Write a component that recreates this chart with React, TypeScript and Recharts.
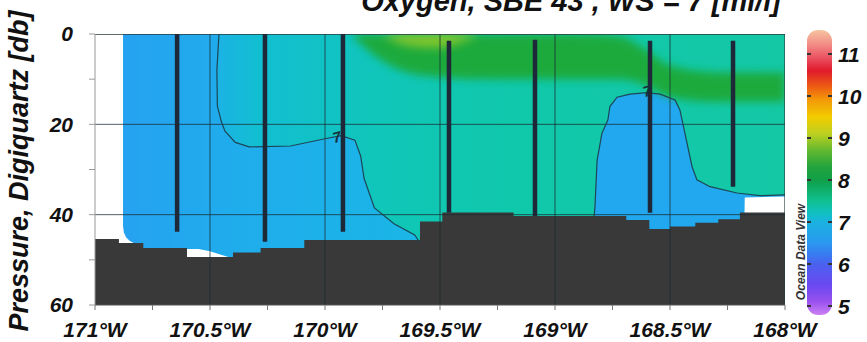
import React from "react";
import {
  ComposedChart,
  Area,
  Line,
  Scatter,
  XAxis,
  YAxis,
  BarChart,
  Bar,
} from "recharts";

// axis ticks
const xTicks = [-171, -170.75, -170.5, -170.25, -170, -169.75, -169.5, -169.25, -169, -168.75, -168.5, -168.25, -168];
const yTicks = [0, 10, 20, 30, 40, 50, 60];
const gridLon = [-170.5, -170, -169.5, -169, -168.5];
const gridDepth = [20, 40];
const colorTicks = [5, 6, 7, 8, 9, 10, 11];

// CTD stations: longitude, first and last pressure [db]
const stationLon = [-170.643, -170.261, -169.922, -169.461, -169.087, -168.587, -168.226];
const stationTop = [0, 0, 0, 1.5, 1.3, 1.5, 1.5];
const stationBottom = [43.8, 46, 43.8, 39.6, 40.3, 39.6, 33.8];

// bottom depth (step profile) [lon, db]
const bathymetry: [number, number][] = [
  [-171, 45.4], [-170.896, 46.3], [-170.79, 47.4], [-170.6, 49.4], [-170.4, 48.4],
  [-170.28, 47.4], [-170.09, 45.6], [-169.587, 41.5], [-169.49, 39.5], [-169.18, 40.3],
  [-168.69, 41.2], [-168.59, 43.2], [-168.5, 42.6], [-168.39, 41.8], [-168.29, 41],
  [-168.196, 39.5], [-168, 39.5],
];

// lower edge of the gridded field (no data below) [lon, db]
const dataBottom: [number, number][] = [
  [-170.878, 42.5], [-170.874, 44], [-170.865, 45], [-170.85, 45.8], [-170.82, 46.6],
  [-170.79, 47.6], [-170.6, 47.6], [-170.55, 47.6], [-170.5, 48.1], [-170.42, 49.4],
  [-170.39, 52], [-168.18, 52], [-168.175, 36.2], [-168, 36],
];

// 7 ml/l contours [lon, db]
const contourWest: [number, number][] = [
  [-170.461, 0], [-170.47, 8], [-170.468, 16], [-170.45, 19.5], [-170.435, 21.5],
  [-170.39, 24], [-170.33, 25], [-170.15, 24.8], [-170.0, 23.2], [-169.93, 22.5],
  [-169.87, 23.5], [-169.845, 27], [-169.83, 32], [-169.785, 38.5], [-169.7, 42],
  [-169.61, 44.5], [-169.59, 46],
];
const contourEast: [number, number][] = [
  [-168.83, 40.5], [-168.826, 38], [-168.817, 28], [-168.796, 22], [-168.77, 19],
  [-168.761, 16], [-168.73, 14], [-168.674, 13.3], [-168.6, 13], [-168.543, 13.3],
  [-168.478, 14.6], [-168.457, 16.8], [-168.435, 22], [-168.404, 29.4], [-168.383, 32.3],
  [-168.326, 33.8], [-168.209, 35.2], [-168.109, 35.8], [-168, 35.6],
];
const contourLabels = [
  { lon: -169.948, p: 22.8, t: "7" },
  { lon: -168.6, p: 12.6, t: "7" },
];

// high oxygen patches near the surface [lon, top db, bottom db]
const greenBand: [number, number, number][] = [
  [-169.88, 0, 0.5], [-169.75, 0, 6], [-169.6, 0, 9], [-169.3, 0, 10],
  [-168.9, 0, 10], [-168.72, 0.5, 10], [-168.62, 3, 11], [-168.5, 7, 14],
  [-168.3, 8.5, 15], [-168, 8.5, 15],
];
const yellowPatch: [number, number, number][] = [
  [-169.74, 0, 0.5], [-169.64, 0, 2.5], [-169.52, 0, 3], [-169.42, 0, 2], [-169.34, 0, 0.3],
];

// colour scale stops [value ml/l, colour]
const cbMin = 4.786;
const cbMax = 11.571;
const cbStops: [number, string][] = [
  [11.571, "#f6c4a0"], [11.25, "#f29088"], [10.9, "#ea5060"], [10.6, "#e01a2a"],
  [10.2, "#ee6012"], [9.9, "#f39a08"], [9.5, "#f2cc00"], [9.1, "#bcd020"],
  [8.7, "#62b830"], [8.3, "#22a33e"], [8.0, "#10a048"], [7.5, "#10c090"],
  [7.2, "#12c0c4"], [7.0, "#1ab2e0"], [6.5, "#2a98f0"], [6.2, "#3a78f0"],
  [6.0, "#4a62f0"], [5.5, "#6a48f0"], [5.1, "#9a52f0"], [4.786, "#cc80f2"],
];

const font = "'Liberation Sans', Arial, sans-serif";
const tickStyle = { fontSize: 21, fontWeight: 700, fontStyle: "italic" as const, fill: "#111", fontFamily: font };

const waterData = [
  { lon: -170.878, range: [0, 60] },
  { lon: -168, range: [0, 60] },
];
const westBlueData = [
  { lon: -170.878, range: [0, 50] },
  ...contourWest.map(([lon, p]) => ({ lon, range: [p, 50] })),
];
const eastBlueData = contourEast.map(([lon, p]) => ({ lon, range: [p, 46] }));
const maskData = dataBottom.map(([lon, p]) => ({ lon, range: [p, 60] }));
const bathyData = bathymetry.map(([lon, p]) => ({ lon, range: [p, 60] }));
const greenData = greenBand.map(([lon, a, b]) => ({ lon, range: [a, b] }));
const yellowData = yellowPatch.map(([lon, a, b]) => ({ lon, range: [a, b] }));

const fmtLon = (v: number) => (Math.abs(v * 2 - Math.round(v * 2)) < 1e-6 ? `${-v}°W` : "");
const fmtDepth = (v: number) => (v % 20 === 0 ? `${v}` : "");

const ContourLabel = (props: any) => {
  const { cx, cy, payload } = props;
  return (
    <text
      x={cx}
      y={cy}
      transform={`rotate(-15 ${cx} ${cy})`}
      textAnchor="middle"
      dominantBaseline="central"
      fontSize={15}
      fontWeight={700}
      fontStyle="italic"
      fontFamily={font}
      fill="#15303c"
    >
      {payload.t}
    </text>
  );
};

const ColorTick = (props: any) => {
  const { x, y, payload } = props;
  return (
    <g>
      <line x1={x - 25} x2={x - 21} y1={y} y2={y} stroke="#333" strokeWidth={2} />
      <line x1={x - 4} x2={x} y1={y} y2={y} stroke="#333" strokeWidth={2} />
      <text x={x + 6} y={y + 8} fontSize={21} fontWeight={700} fontStyle="italic" fontFamily={font} fill="#111">
        {payload.value}
      </text>
    </g>
  );
};

export default function App() {
  const cbData = [{ k: "o2", range: [cbMin, cbMax] }];
  return (
    <div style={{ position: "absolute", left: 0, top: 0, width: 867, height: 342, background: "#fff" }}>
      <ComposedChart width={867} height={342} margin={{ top: 34, right: 82, bottom: 0, left: 45 }}>
        <defs>
          <linearGradient id="waterGrad" x1="0" y1="0" x2="1" y2="0">
            <stop offset="0%" stopColor="#28a2f0" />
            <stop offset="14%" stopColor="#1cb2e6" />
            <stop offset="20%" stopColor="#12bed2" />
            <stop offset="40%" stopColor="#10c6b8" />
            <stop offset="60%" stopColor="#10c8aa" />
            <stop offset="100%" stopColor="#14c8a6" />
          </linearGradient>
          <linearGradient id="westBlue" x1="0" y1="0" x2="1" y2="0">
            <stop offset="0%" stopColor="#26a2f0" />
            <stop offset="35%" stopColor="#20acec" />
            <stop offset="100%" stopColor="#1ab6e6" />
          </linearGradient>
          <filter id="soft" x="-30%" y="-100%" width="160%" height="300%">
            <feGaussianBlur stdDeviation="4.5" />
          </filter>
          <filter id="softer" x="-30%" y="-100%" width="160%" height="300%">
            <feGaussianBlur stdDeviation="5" />
          </filter>
        </defs>
        <XAxis
          type="number"
          dataKey="lon"
          domain={[-171, -168]}
          ticks={xTicks}
          interval={0}
          allowDataOverflow
          tickFormatter={fmtLon}
          height={37}
          tickSize={5}
          tickMargin={12}
          tick={tickStyle}
          axisLine={{ stroke: "#555" }}
          tickLine={{ stroke: "#777" }}
        />
        <YAxis
          type="number"
          dataKey="p"
          domain={[0, 60]}
          reversed
          ticks={yTicks}
          interval={0}
          allowDataOverflow
          tickFormatter={fmtDepth}
          width={50}
          tickSize={6}
          tickMargin={16}
          tick={tickStyle}
          axisLine={{ stroke: "#999" }}
          tickLine={{ stroke: "#999" }}
        />

        <Area data={waterData} dataKey="range" type="linear" stroke="none" fill="url(#waterGrad)" fillOpacity={1} isAnimationActive={false} />
        <Area data={westBlueData} dataKey="range" type="linear" stroke="none" fill="url(#westBlue)" fillOpacity={1} isAnimationActive={false} />
        <Area data={eastBlueData} dataKey="range" type="linear" stroke="none" fill="#22a8ee" fillOpacity={1} isAnimationActive={false} />
        <Area data={greenData} dataKey="range" type="monotone" stroke="none" fill="#1eaa3c" fillOpacity={1} filter="url(#soft)" isAnimationActive={false} />
        <Area data={yellowData} dataKey="range" type="monotone" stroke="none" fill="#96cc2c" fillOpacity={0.85} filter="url(#softer)" isAnimationActive={false} />
        <Area data={maskData} dataKey="range" type="linear" stroke="none" fill="#fff" fillOpacity={1} isAnimationActive={false} />
        <Area data={bathyData} dataKey="range" type="stepAfter" stroke="none" fill="#393939" fillOpacity={1} isAnimationActive={false} />

        {gridLon.map((lon) => (
          <Line key={`gx${lon}`} data={[{ lon, p: 0 }, { lon, p: 60 }]} dataKey="p" stroke="#1b2a30" strokeOpacity={0.75} strokeWidth={1} dot={false} isAnimationActive={false} />
        ))}
        {gridDepth.map((p) => (
          <Line key={`gy${p}`} data={[{ lon: -171, p }, { lon: -168, p }]} dataKey="p" stroke="#1b2a30" strokeOpacity={0.75} strokeWidth={1} dot={false} isAnimationActive={false} />
        ))}
        <Line data={[{ lon: -171, p: 0 }, { lon: -168, p: 0 }]} dataKey="p" stroke="#2b3a3e" strokeWidth={1.5} dot={false} isAnimationActive={false} />
        <Line data={[{ lon: -168, p: 0 }, { lon: -168, p: 60 }]} dataKey="p" stroke="#2b3a3e" strokeWidth={1.2} dot={false} isAnimationActive={false} />

        <Line data={contourWest.map(([lon, p]) => ({ lon, p }))} dataKey="p" type="linear" stroke="#1d4656" strokeWidth={1.2} dot={false} isAnimationActive={false} />
        <Line data={contourEast.map(([lon, p]) => ({ lon, p }))} dataKey="p" type="linear" stroke="#1d4656" strokeWidth={1.2} dot={false} isAnimationActive={false} />

        {stationLon.map((lon, i) => (
          <Line
            key={`st${i}`}
            data={[{ lon, p: stationTop[i] }, { lon, p: stationBottom[i] }]}
            dataKey="p"
            stroke="#1e2838"
            strokeWidth={4.5}
            dot={false}
            isAnimationActive={false}
          />
        ))}

        <Scatter data={contourLabels} dataKey="p" shape={<ContourLabel />} isAnimationActive={false} />
      </ComposedChart>

      <div style={{ position: "absolute", left: 790, top: 0 }}>
        <BarChart width={77} height={342} data={cbData} margin={{ top: 30, right: 0, bottom: 27, left: 17 }} barCategoryGap={0}>
          <defs>
            <linearGradient id="cbGrad" x1="0" y1="0" x2="0" y2="1">
              {cbStops.map(([v, c]) => (
                <stop key={v} offset={`${((cbMax - v) / (cbMax - cbMin)) * 100}%`} stopColor={c} />
              ))}
            </linearGradient>
          </defs>
          <XAxis dataKey="k" hide />
          <YAxis
            orientation="right"
            type="number"
            width={35}
            domain={[cbMin, cbMax]}
            ticks={colorTicks}
            interval={0}
            allowDataOverflow
            axisLine={false}
            tickLine={false}
            tickSize={0}
            tickMargin={0}
            tick={<ColorTick />}
          />
          <Bar dataKey="range" fill="url(#cbGrad)" radius={11} isAnimationActive={false} />
        </BarChart>
      </div>

      <svg width={867} height={342} style={{ position: "absolute", left: 0, top: 0, pointerEvents: "none" }}>
        <text x={781} y={11} textAnchor="end" fontSize={29} fontWeight={700} fontStyle="italic" fontFamily={font} fill="#111">
          Oxygen, SBE 43 , WS = 7 [ml/l]
        </text>
        <text transform="translate(28,171) rotate(-90)" textAnchor="middle" fontSize={27} fontWeight={700} fontStyle="italic" fontFamily={font} fill="#111">
          Pressure, Digiquartz [db]
        </text>
        <text transform="translate(805,252) rotate(-90)" textAnchor="middle" fontSize={12} fontWeight={700} fontStyle="italic" fontFamily={font} fill="#333">
          Ocean Data View
        </text>
      </svg>
    </div>
  );
}
